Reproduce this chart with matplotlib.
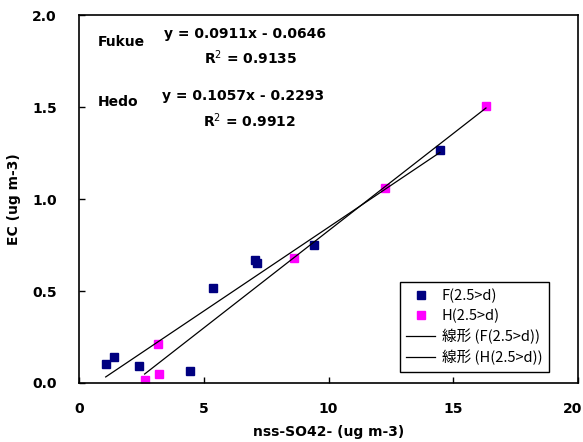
import matplotlib
matplotlib.use("Agg")
import matplotlib.pyplot as plt
import matplotlib.transforms as mtrans
import numpy as np

plt.rcParams['font.family'] = ['DejaVu Sans', 'Noto Sans CJK JP']

# Data
f_x = [1.07, 1.40, 2.39, 4.46, 5.37, 7.04, 7.13, 9.40, 14.46]
f_y = [0.105, 0.143, 0.094, 0.063, 0.516, 0.670, 0.650, 0.748, 1.267]
h_x = [2.63, 3.16, 3.21, 8.63, 12.25, 16.31]
h_y = [0.018, 0.212, 0.051, 0.681, 1.059, 1.506]
f_slope, f_icpt = 0.0911, -0.0646
h_slope, h_icpt = 0.1057, -0.2293

x_ticks = [0, 5, 10, 15, 20]
y_ticks = [0.0, 0.5, 1.0, 1.5, 2.0]

fig = plt.figure(figsize=(5.83, 4.42), dpi=100)
ax = fig.add_axes([0.1355, 0.1335, 0.856, 0.8325])

ax.plot(f_x, f_y, linestyle='none', marker='s', markersize=6.2,
        color='#000080', label='F(2.5>d)')
ax.plot(h_x, h_y, linestyle='none', marker='s', markersize=6.2,
        color='#FF00FF', label='H(2.5>d)')

fx = np.array([min(f_x), max(f_x)])
hx = np.array([min(h_x), max(h_x)])
ax.plot(fx, f_slope * fx + f_icpt, color='black', lw=0.9, label='線形 (F(2.5>d))')
ax.plot(hx, h_slope * hx + h_icpt, color='black', lw=0.9, label='線形 (H(2.5>d))')

ax.set_xlim(0, 20)
ax.set_ylim(0, 2.0)
ax.set_xticks(x_ticks)
ax.set_yticks(y_ticks)
ax.set_xticklabels([str(t) for t in x_ticks], fontweight='bold', fontsize=10)
ax.set_yticklabels([f"{t:.1f}" for t in y_ticks], fontweight='bold', fontsize=10)
ax.tick_params(direction='in', length=4, width=1)
ax.tick_params(axis='x', pad=14)
ax.tick_params(axis='y', pad=16)
for s in ax.spines.values():
    s.set_linewidth(1.2)
    s.set_color('black')

# nudge the last x tick label slightly left, as in the reference
last = ax.get_xticklabels()[-1]
last.set_transform(last.get_transform() + mtrans.ScaledTranslation(-5 / 100, 0, fig.dpi_scale_trans))

ax.set_xlabel('nss-SO42- (ug m-3)', fontweight='bold', fontsize=10, labelpad=6)
ax.set_ylabel('EC (ug m-3)', fontweight='bold', fontsize=10, labelpad=8)

tk = dict(fontweight='bold', fontsize=10, va='center', ha='left')
ax.text(0.75, 1.853, 'Fukue', **tk)
ax.text(3.39, 1.896, 'y = 0.0911x - 0.0646', **tk)
ax.text(5.0, 1.766, 'R$^{2}$ = 0.9135', **tk)
ax.text(0.75, 1.526, 'Hedo', **tk)
ax.text(3.34, 1.559, 'y = 0.1057x - 0.2293', **tk)
ax.text(4.96, 1.428, 'R$^{2}$ = 0.9912', **tk)

leg = ax.legend(loc='lower right', bbox_to_anchor=(0.942, 0.03), borderaxespad=0,
                fancybox=False, edgecolor='black', framealpha=1,
                prop={'family': ['Noto Sans CJK JP', 'DejaVu Sans'], 'size': 10.5},
                handlelength=2.0, handletextpad=0.45, labelspacing=0.38,
                borderpad=0.45, numpoints=1)
leg.get_frame().set_linewidth(1.0)

fig.savefig('out.png', dpi=100)
